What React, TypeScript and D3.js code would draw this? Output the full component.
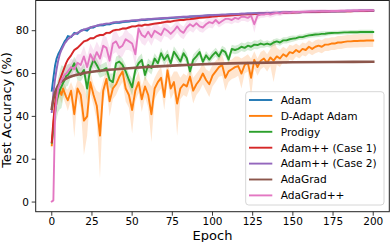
import React from "react";
import * as d3 from "d3";

// ---- data ----
const EPOCHS: number[] = [...d3.range(0, 11), ...d3.range(12, 201, 2)];

const ADAM = [
  52, 58, 63.5, 67, 69, 70.5, 72, 73.5, 75, 76, 77.5,
  77, 79, 78.5, 80, 80.5, 80, 81.5, 81.5, 82.3, 82.5,
  82.5, 83, 83, 83.5, 83.8, 83.7, 84, 84.2, 84.3, 84.6,
  84.5, 84.8, 85, 85, 85.2, 85.3, 85.4, 85.5, 85.6, 85.7,
  85.8, 85.9, 86, 86.1, 86.2, 86.3, 86.3, 86.5, 86.6, 86.7,
  86.8, 86.9, 87, 87.1, 87.1, 87.2, 87.3, 87.4, 87.4, 87.5,
  87.6, 87.6, 87.7, 87.8, 87.8, 87.9, 87.9, 88, 88, 88.1,
  88.1, 88.2, 88.2, 88.3, 88.3, 88.4, 88.4, 88.5, 88.5, 88.6,
  88.6, 88.6, 88.7, 88.7, 88.8, 88.8, 88.8, 88.9, 88.9, 88.9,
  89, 89, 89, 89.1, 89.1, 89.1, 89.2, 89.2, 89.2, 89.2,
  89.3, 89.3, 89.3, 89.3, 89.3,
];

const DADAPT = [
  26.5, 36, 44, 48, 50, 52, 50, 53, 51, 49, 47.5,
  52, 41, 53, 50, 38, 40, 56, 50, 45, 31,
  52, 57.5, 47, 53, 55, 58.5, 61, 53, 50, 43,
  52, 56, 48, 54, 50, 41, 53, 56, 58, 49,
  61.5, 53, 56, 46, 53, 55, 54, 58.6, 52, 55,
  57, 60, 57, 55, 59, 61, 63, 64, 58, 61,
  62, 63, 63.5, 60, 64, 65, 58, 66.4, 63, 66,
  67, 65, 67.5, 66, 68, 67, 69, 68, 70, 69.5,
  71, 70, 71.5, 71, 72.5, 71.5, 72.5, 73, 72.5, 73.5,
  73.5, 74, 74, 74.5, 74.5, 74.8, 75, 75, 75.2, 75.2,
  75.3, 75.3, 75.4, 75.4, 75.4,
];
const DADAPT_STD = [
  3.5, 4, 4, 4, 3.5, 3, 4, 3, 4, 4, 5,
  4, 11, 4, 6, 16, 9, 5, 5, 7, 20,
  5, 4, 7, 5, 5, 5, 5, 6, 6, 11,
  5, 5, 6, 5, 6, 13, 5, 5, 5, 6,
  5, 5, 5, 15, 5, 5, 5, 5, 6, 5,
  5, 5, 5, 6, 5, 5, 4.5, 5, 6, 5,
  4.5, 5, 4.5, 7, 4, 4, 9, 4, 4, 4,
  4, 4, 4, 10, 4, 4, 3.5, 3.5, 3.5, 3.5,
  3, 3, 3, 3, 3, 3, 3, 3, 3, 3,
  3, 3, 3, 3, 3, 3, 3, 3, 3, 3,
  3, 3, 3, 3, 3,
];

const PRODIGY = [
  27.7, 33.6, 41.4, 46.9, 50, 52.3, 53.9, 55.5, 57, 58.9, 59.3,
  61.7, 64.8, 60.9, 59.3, 61.7, 53, 62.5, 66.4, 64, 61,
  61.7, 62.5, 57, 56, 64.8, 65.6, 64, 61, 57, 53.6,
  61.7, 64.8, 66.4, 59.3, 64, 62.5, 67, 64.8, 69.5, 66.4,
  68.7, 64.8, 70.2, 68, 65.6, 69.5, 67.1, 61, 66.4, 68,
  70, 65.5, 68.5, 66.5, 68.5, 70, 68, 71, 70, 66.5,
  71.5, 71, 71.5, 72.5, 72, 73, 72.5, 73.5, 73.3, 74,
  73.5, 74, 73.5, 74.5, 75, 74.5, 75.5, 75.5, 76, 76.3,
  76.5, 77, 77, 77.5, 77.8, 78, 78.2, 78.3, 78.5, 78.6,
  78.8, 78.9, 79, 79, 79.1, 79.2, 79.2, 79.3, 79.3, 79.3,
  79.4, 79.4, 79.4, 79.4, 79.4,
];
const PRODIGY_STD = [
  2, 4, 6, 8, 8, 9, 10, 8, 6, 5, 5,
  3, 3, 4, 3, 3, 6, 3, 3, 3, 3,
  3, 3, 3, 4, 3, 3, 3, 3, 3, 4,
  3, 3, 3, 3, 3, 3, 2.5, 2.5, 2.5, 2.5,
  2.5, 2.5, 2.5, 2.5, 2.5, 2.5, 2.5, 3, 2.5, 2.5,
  2, 2, 2, 2, 2, 2, 2, 2, 2, 2,
  2, 2, 2, 2, 2, 2, 2, 2, 2, 2,
  1.5, 1.5, 1.5, 1.5, 1.5, 1.5, 1.5, 1.5, 1.5, 1.5,
  1.2, 1.2, 1.2, 1.2, 1.2, 1.2, 1.2, 1.2, 1.2, 1.2,
  1, 1, 1, 1, 1, 1, 1, 1, 1, 1,
  1, 1, 1, 1, 1,
];

const ADAMPP1 = [
  28, 38, 46, 51, 54, 57, 59, 61, 63, 65, 66.5,
  68.5, 71, 72, 73.5, 75, 75.5, 76.5, 76.5, 77.5, 78,
  78, 79, 79, 80, 80.4, 80.5, 81, 81, 81.5, 82,
  82, 82.5, 82.3, 82.8, 82.7, 83, 83.3, 83.5, 83.7, 84,
  84.3, 84.2, 84.6, 84.8, 85, 85, 85.3, 85.4, 85.6, 85.8,
  86, 86.1, 86.3, 86.4, 86.6, 86.7, 86.8, 86.9, 87, 87.1,
  87.2, 87.3, 87.4, 87.5, 87.6, 87.7, 87.7, 87.8, 87.9, 88,
  88, 88.1, 88.2, 88.2, 88.3, 88.3, 88.4, 88.4, 88.5, 88.5,
  88.6, 88.6, 88.7, 88.7, 88.7, 88.8, 88.8, 88.8, 88.9, 88.9,
  88.9, 89, 89, 89, 89.1, 89.1, 89.1, 89.1, 89.2, 89.2,
  89.2, 89.2, 89.2, 89.3, 89.3,
];

const ADAMPP2 = [
  42, 51, 57, 62, 66, 69, 71, 72.5, 74, 75, 76,
  77.3, 78.5, 79, 79.8, 80.5, 81, 81.5, 82, 82.3, 82.8,
  83, 83.3, 83.4, 83.8, 84, 84.1, 84.3, 84.5, 84.6, 84.8,
  84.9, 85, 85.2, 85.3, 85.4, 85.5, 85.6, 85.7, 85.8, 85.9,
  86, 86.1, 86.2, 86.3, 86.4, 86.5, 86.5, 86.6, 86.7, 86.8,
  86.9, 87, 87.1, 87.2, 87.2, 87.3, 87.4, 87.5, 87.5, 87.6,
  87.7, 87.7, 87.8, 87.9, 87.9, 88, 88, 88.1, 88.1, 88.2,
  88.2, 88.3, 88.3, 88.4, 88.4, 88.5, 88.5, 88.6, 88.6, 88.7,
  88.7, 88.7, 88.8, 88.8, 88.9, 88.9, 88.9, 89, 89, 89,
  89.1, 89.1, 89.1, 89.2, 89.2, 89.2, 89.3, 89.3, 89.3, 89.3,
  89.4, 89.4, 89.4, 89.4, 89.4,
];

const ADAGRAD_EPOCHS = [0, 1, 2, 3, 4, 5, 6, 8, 10, 12, 15, 20, 25, 30, 40, 50, 60, 75, 90, 100, 125, 150, 175, 200];
const ADAGRAD = [43.5, 48, 51, 53, 54.5, 55.5, 56.3, 57.3, 58, 58.6, 59.3, 60.2, 60.8, 61.3, 62, 62.6, 63.1, 63.7, 64.2, 64.5, 65, 65.3, 65.4, 65.5];

const ADAGRADPP = [
  0.3, 0.8, 40, 48, 53, 55, 57, 58, 59.5, 60, 61,
  63, 62, 65, 64, 68, 63, 69, 66, 70, 67,
  73, 72, 66, 74, 75, 72, 73, 76, 75, 74,
  69, 81, 78, 77, 79.5, 77, 80, 79, 78, 81,
  80, 78.5, 80, 82, 80, 79, 81.5, 83, 82, 83.5,
  82, 81.5, 83, 84, 83.5, 85, 83.5, 84.5, 85.5, 85.5,
  85, 86, 85.5, 86.5, 86.5, 86, 87, 83, 87, 87.5,
  87.5, 88, 87.5, 88, 88.3, 88, 88.5, 88.5, 88.4, 88.7,
  88.6, 88.8, 88.8, 88.9, 88.9, 89, 89, 89, 89.1, 89.1,
  89.1, 89.2, 89.2, 89.2, 89.3, 89.3, 89.3, 89.3, 89.4, 89.4,
  89.4, 89.4, 89.5, 89.5, 89.5,
];
const ADAGRADPP_STD = [
  0.5, 0.8, 4, 3, 3, 3, 3, 3, 3, 3, 3,
  4, 4, 4, 5, 5, 5, 5, 5, 5, 5,
  5, 5, 6, 5, 5, 5, 5, 5, 4, 4,
  6, 4, 4, 4, 4, 4, 3.5, 3.5, 3.5, 3.5,
  3, 3, 3, 3, 3, 3, 3, 3, 3, 2.5,
  2.5, 2.5, 2.5, 2.5, 2.5, 2, 2, 2, 2, 2,
  2, 2, 2, 2, 2, 2, 2, 4, 2, 1.5,
  1.5, 1.5, 1.5, 1.5, 1.2, 1.2, 1.2, 1.2, 1, 1,
  1, 1, 1, 1, 1, 1, 1, 1, 1, 1,
  0.8, 0.8, 0.8, 0.8, 0.8, 0.8, 0.8, 0.8, 0.8, 0.8,
  0.8, 0.8, 0.8, 0.8, 0.8,
];

const SMALL_STD = 0.6;
const ADAGRAD_STD = 0.4;

const X_TICKS = [0, 25, 50, 75, 100, 125, 150, 175, 200];
const Y_TICKS = [0, 20, 40, 60, 80];
const X_LABEL = "Epoch";
const Y_LABEL = "Test Accuracy (%)";

type Series = {
  name: string;
  color: string;
  epochs: number[];
  mean: number[];
  std: number[] | number;
  width: number;
  smooth?: boolean;
};

const SERIES: Series[] = [
  { name: "Adam", color: "#1f77b4", epochs: EPOCHS, mean: ADAM, std: SMALL_STD, width: 1.9 },
  { name: "D-Adapt Adam", color: "#ff7f0e", epochs: EPOCHS, mean: DADAPT, std: DADAPT_STD, width: 1.9 },
  { name: "Prodigy", color: "#2ca02c", epochs: EPOCHS, mean: PRODIGY, std: PRODIGY_STD, width: 1.9 },
  { name: "Adam++ (Case 1)", color: "#d62728", epochs: EPOCHS, mean: ADAMPP1, std: SMALL_STD, width: 1.9 },
  { name: "Adam++ (Case 2)", color: "#9467bd", epochs: EPOCHS, mean: ADAMPP2, std: SMALL_STD, width: 1.9 },
  { name: "AdaGrad", color: "#8c564b", epochs: ADAGRAD_EPOCHS, mean: ADAGRAD, std: ADAGRAD_STD, width: 2.6, smooth: true },
  { name: "AdaGrad++", color: "#e377c2", epochs: EPOCHS, mean: ADAGRADPP, std: ADAGRADPP_STD, width: 1.9 },
];

const W = 390;
const H = 242;
const L = 35.7, R = 389.3, T = 0.5, B = 211.7;
const FONT = "DejaVu Sans, sans-serif";

export default function App() {
  const x = d3.scaleLinear().domain([-10, 210]).range([L, R]);
  const y = d3.scaleLinear().domain([-4.5, 94.1]).range([B, T]);

  const stdAt = (s: Series, i: number) => (typeof s.std === "number" ? s.std : s.std[i]);

  const lines = SERIES.map((s) => {
    const pts = s.epochs.map((e, i) => ({ e, m: s.mean[i], sd: stdAt(s, i) }));
    const curve = s.smooth ? d3.curveMonotoneX : d3.curveLinear;
    const line = d3.line<any>().x((d) => x(d.e)).y((d) => y(d.m)).curve(curve)(pts) || "";
    const area = d3.area<any>().x((d) => x(d.e)).y0((d) => y(d.m - d.sd)).y1((d) => y(d.m + d.sd)).curve(curve)(pts) || "";
    return { s, line, area };
  });

  const legX = 245.7, legY = 91.7, legW = 138.3, legH = 113.3;
  const rowH = 15.9;

  return (
    <div style={{ position: "fixed", left: 0, top: 0, width: W, height: H }}>
      <svg width={W} height={H} style={{ display: "block" }} fontFamily={FONT}>
        <rect x={0} y={0} width={W} height={H} fill="#fff" />
        <defs>
          <clipPath id="plot">
            <rect x={L} y={T} width={R - L} height={B - T} />
          </clipPath>
        </defs>
        <g clipPath="url(#plot)">
          {lines.map(({ s, area }) => (
            <path key={s.name + "a"} d={area} fill={s.color} fillOpacity={0.2} stroke="none" />
          ))}
          {lines.map(({ s, line }) => (
            <path key={s.name + "l"} d={line} fill="none" stroke={s.color} strokeWidth={s.width} strokeLinejoin="round" strokeLinecap="square" />
          ))}
        </g>
        <rect x={L} y={T} width={R - L} height={B - T} fill="none" stroke="#222" strokeWidth={1} />
        {X_TICKS.map((t) => (
          <g key={"x" + t}>
            <line x1={x(t)} x2={x(t)} y1={B} y2={B + 4} stroke="#222" strokeWidth={0.9} />
            <text x={x(t)} y={225} textAnchor="middle" fontSize={10.5} fill="#000">{t}</text>
          </g>
        ))}
        {Y_TICKS.map((t) => (
          <g key={"y" + t}>
            <line x1={L - 4} x2={L} y1={y(t)} y2={y(t)} stroke="#222" strokeWidth={0.9} />
            <text x={29} y={y(t)} dy="0.36em" textAnchor="end" fontSize={10.5} fill="#000">{t}</text>
          </g>
        ))}
        <text x={(L + R) / 2} y={239.5} textAnchor="middle" fontSize={13} fill="#000">{X_LABEL}</text>
        <text transform={`translate(11.3, 110) rotate(-90)`} textAnchor="middle" fontSize={13} fill="#000">{Y_LABEL}</text>
        <rect x={legX} y={legY} width={legW} height={legH} rx={3} fill="#fff" fillOpacity={0.8} stroke="#cccccc" strokeWidth={0.8} />
        {SERIES.map((s, i) => {
          const cy = 100 + i * rowH;
          return (
            <g key={"leg" + s.name}>
              <line x1={249} x2={272.3} y1={cy} y2={cy} stroke={s.color} strokeWidth={1.9} />
              <text x={280.7} y={cy} dy="0.36em" fontSize={10.6} fill="#000">{s.name}</text>
            </g>
          );
        })}
      </svg>
    </div>
  );
}
